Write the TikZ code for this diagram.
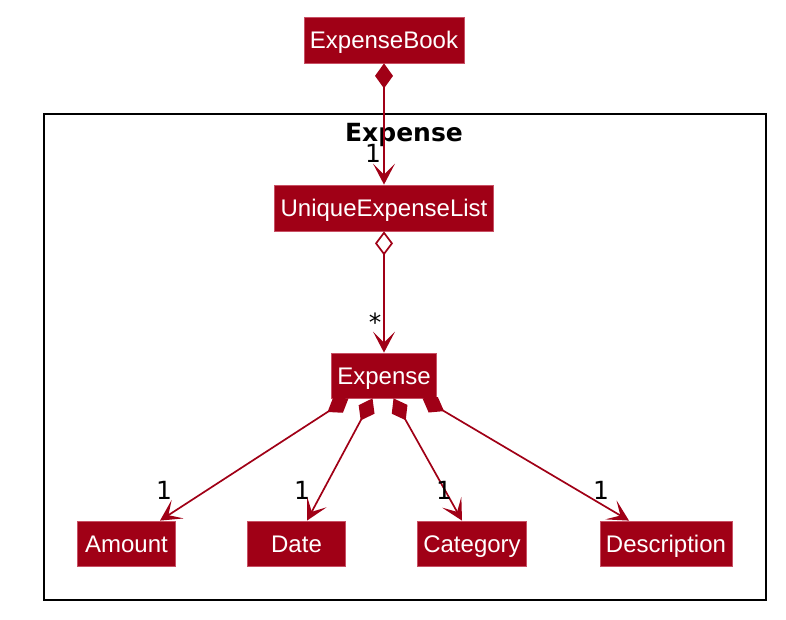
\documentclass[tikz,border=0pt]{standalone}
\usepackage{fontspec}
\setmainfont{Liberation Sans}
\newfontfamily\multfont{DejaVu Sans}
\usetikzlibrary{arrows.meta}
\definecolor{umlred}{RGB}{160,0,22}
\definecolor{umledge}{RGB}{200,80,100}
\begin{document}
\begin{tikzpicture}[x=1pt,y=-1pt,
  cls/.style={fill=umlred,draw=umledge,line width=0.8pt,text=white,
    font=\fontsize{24}{28}\selectfont,minimum height=45pt,minimum width=98pt,
    inner xsep=6pt,inner ysep=0pt,text height=22pt,text depth=4.5pt},
  comp/.style={umlred,line width=1.7pt,
    {Diamond[length=25pt,width=18pt]}-{Stealth[length=21pt,width=22pt,inset=11pt]}},
  aggr/.style={umlred,line width=1.7pt,
    {Diamond[open,fill=white,length=24pt,width=18pt]}-{Stealth[length=21pt,width=22pt,inset=11pt]}},
  mult/.style={font=\multfont\fontsize{25}{28}\selectfont,inner sep=0pt}]
\useasboundingbox (0,0) rectangle (786,620);
% package frame
\draw[line width=2.6pt] (44,114) rectangle (766,600);
\node[font=\multfont\bfseries\fontsize{25}{28}\selectfont] (pkg) at (404,135) {Expense};
% classes
\node[cls,minimum height=46pt] (book) at (384,40) {ExpenseBook};
\node[cls,minimum height=46pt] (uel) at (384,208) {UniqueExpenseList};
\node[cls] (exp) at (384,375.5) {Expense};
\foreach \n/\x/\t in {amt/126.5/Amount,dat/296.5/Date,cat/472/Category,dsc/666/Description}
  \node[cls] (\n) at (\x,543.5) {\t};
% links
\draw[comp] (book.south) -- (uel.north);
\draw[aggr] (uel.south) -- (exp.north);
\foreach \n/\a/\b in {amt/-35.5/33.5,dat/-11.5/10.5,cat/9.5/-10,dsc/38.5/-37}
  \draw[comp] ([xshift=\a pt]exp.south) -- ([xshift=\b pt]\n.north);
% multiplicities
\node[mult] (m0) at (373,153) {1};
\node[mult] (m1) at (375,322) {*};
\foreach \n/\x in {ma/164,md/302,mc/444,ms/601}
  \node[mult] (\n) at (\x,490) {1};
\end{tikzpicture}
\end{document}
